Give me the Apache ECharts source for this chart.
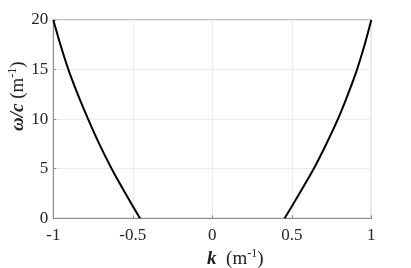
<!DOCTYPE html>
<html><head><meta charset="utf-8">
<script src="https://cdn.jsdelivr.net/npm/echarts@6/dist/echarts.min.js"></script>
<style>html,body{margin:0;padding:0;background:#fff}#c{width:411px;height:268px}</style>
</head><body><div id="c"></div>
<script>
var leftK = [-1, -0.955, -0.905, -0.846, -0.781, -0.711, -0.633, -0.546, -0.455];
var leftW = [20, 17.5, 15, 12.5, 10, 7.5, 5, 2.5, 0];
var rightK = [0.455, 0.548, 0.638, 0.717, 0.79, 0.853, 0.91, 0.958, 1];
var rightW = [0, 2.5, 5, 7.5, 10, 12.5, 15, 17.5, 20];
var xTicks = [-1, -0.5, 0, 0.5, 1];
var yTicks = [0, 5, 10, 15, 20];

function pairs(a, b){ return a.map(function(v,i){ return [v, b[i]]; }); }
var font = 'Liberation Serif';
var nameRich = {
  b: {fontFamily: font, fontSize: 19, fontWeight: 'bold', fontStyle: 'italic', color: '#222'},
  n: {fontFamily: font, fontSize: 19, color: '#222'},
  sup: {fontFamily: font, fontSize: 12, verticalAlign: 'top', padding: [0,0,9,0], color: '#222'}
};
var chart = echarts.init(document.getElementById('c'));
chart.setOption({
  animation: false,
  grid: {left: 53.3, right: 39.7, top: 20, bottom: 49.7, containLabel: false, outerBoundsMode: 'none',
    show: true, borderColor: '#8a8a8a', borderWidth: 1, backgroundColor: 'transparent'},
  xAxis: {
    type: 'value', min: -1, max: 1, interval: 0.5,
    axisLine: {onZero: false, lineStyle: {color: '#8a8a8a'}},
    axisTick: {inside: true, length: 3, lineStyle: {color: '#8a8a8a'}},
    splitLine: {show: true, lineStyle: {color: '#ececec'}},
    axisLabel: {color: '#262626', fontFamily: font, fontSize: 17, margin: 9,
      formatter: function(v){ return xTicks.indexOf(v) >= 0 ? String(v) : ''; }},
    name: '{b|k}{n|  (m}{sup|-1}{n|)}', nameLocation: 'middle', nameGap: 30, nameMoveOverlap: false,
    nameTextStyle: {color: '#222', fontFamily: font, fontSize: 19, padding: [0,0,0,46], rich: nameRich}
  },
  yAxis: {
    type: 'value', min: 0, max: 20, interval: 5,
    axisLine: {show: true, onZero: false, lineStyle: {color: '#8a8a8a'}},
    axisTick: {show: true, inside: true, length: 3, lineStyle: {color: '#8a8a8a'}},
    splitLine: {show: true, lineStyle: {color: '#ececec'}},
    axisLabel: {color: '#262626', fontFamily: font, fontSize: 17, margin: 5,
      formatter: function(v){ return yTicks.indexOf(v) >= 0 ? String(v) : ''; }},
    name: '{b|ω/c}{n| (m}{sup|-1}{n|)}', nameLocation: 'middle', nameGap: 25, nameMoveOverlap: false,
    nameTextStyle: {color: '#222', fontFamily: font, fontSize: 19, padding: [0,0,0,46], rich: nameRich}
  },
  series: [
    {type: 'line', data: pairs(leftK, leftW), smooth: 0.25, showSymbol: false, lineStyle: {color: '#000', width: 2}},
    {type: 'line', data: pairs(rightK, rightW), smooth: 0.25, showSymbol: false, lineStyle: {color: '#000', width: 2}}
  ]
});
</script></body></html>
